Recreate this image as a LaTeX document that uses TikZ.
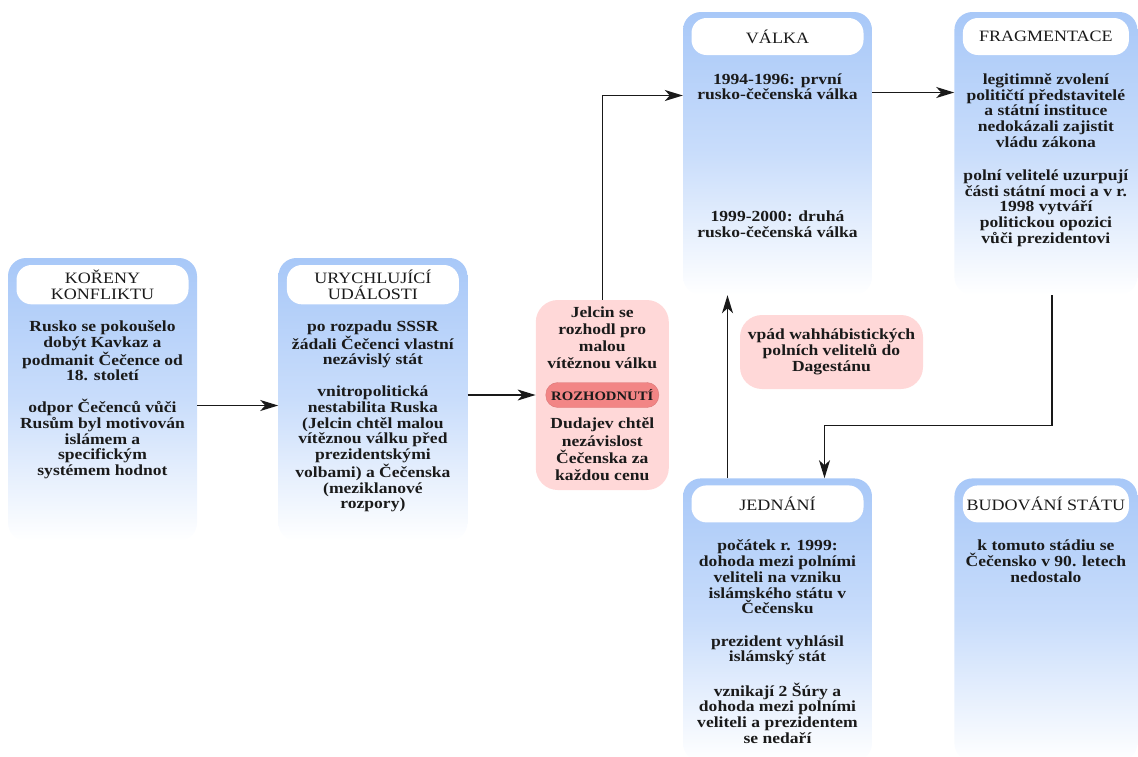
\documentclass[tikz,border=0pt]{standalone}
\usepackage{fontspec}
\setmainfont{Liberation Serif}[FakeStretch=1.14]
\usetikzlibrary{positioning,arrows.meta}
\tikzset{>={Stealth[length=18pt,width=11pt,inset=5pt]}}
\definecolor{phaseblue}{HTML}{A8C8F8}
\definecolor{phasemid}{HTML}{C9DDFB}
\definecolor{decpink}{HTML}{FFD8D8}
\definecolor{decred}{HTML}{F28585}
\definecolor{ink}{HTML}{1A1A1A}

\begin{document}
\begin{tikzpicture}[x=1pt, y=1pt,
    phase/.style={rounded corners=18pt, top color=phaseblue, bottom color=white, middle color=phasemid,
                  minimum width=189pt, minimum height=283pt, inner sep=0pt},
    head/.style={fill=white, rounded corners=15pt, minimum width=172pt, minimum height=37pt,
                 inner xsep=2pt, inner ysep=5pt, align=center, text=ink,
                 font=\fontsize{15.8}{15.6}\selectfont},
    body/.style={align=center, inner sep=0pt, text=ink, font=\bfseries\fontsize{15.4}{15.8}\selectfont},
    dec/.style={fill=decpink, rounded corners=22pt, inner sep=0pt},
    dectext/.style={body, font=\bfseries\fontsize{15.4}{17.3}\selectfont},
    pill/.style={fill=decred, draw=decred!90!black, rounded corners=12pt, minimum width=113pt,
                 minimum height=25pt, inner sep=0pt, text=ink, font=\bfseries\fontsize{12.9}{13}\selectfont},
    conn/.style={->, draw=black!90, line width=1.2pt}]
    \useasboundingbox (0,0) rectangle (1138,-756);

    % koreny konfliktu
    \node[phase] (koreny) at (102.5,-399.5) {};
    \node[head, below=7pt of koreny.north] (koreny-h) {KOŘENY\\KONFLIKTU};
    \node[body, below=16pt of koreny-h] (koreny-b) {Rusko se pokoušelo\\dobýt Kavkaz a\\podmanit Čečence od\\18. století\\[15.8pt]odpor Čečenců vůči\\Rusům byl motivován\\islámem a\\specifickým\\systémem hodnot};

    % urychlujici udalosti
    \node[phase, right=81pt of koreny] (urychl) {};
    \node[head, below=7pt of urychl.north] (urychl-h) {URYCHLUJÍCÍ\\UDÁLOSTI};
    \node[body, below=16pt of urychl-h] (urychl-b) {po rozpadu SSSR\\žádali Čečenci vlastní\\nezávislý stát\\[15.8pt]vnitropolitická\\nestabilita Ruska\\(Jelcin chtěl malou\\vítěznou válku před\\prezidentskými\\volbami) a Čečenska\\(meziklanové\\rozpory)};

    % rozhodnuti
    \node[dec, minimum width=133pt, minimum height=190pt, right=68pt of urychl, yshift=4.5pt] (rozhod) {};
    \node[pill] (rozhod-p) at (rozhod) {ROZHODNUTÍ};
    \node[dectext, above=13pt of rozhod-p] (rozhod-a) {Jelcin se\\rozhodl pro\\malou\\vítěznou válku};
    \node[dectext, below=10pt of rozhod-p] (rozhod-b) {Dudajev chtěl\\nezávislost\\Čečenska za\\každou cenu};

    % valka
    \node[phase] (valka) at (777.5,-153.5) {};
    \node[head, below=6pt of valka.north] (valka-h) {VÁLKA};
    \node[body, below=18pt of valka-h] (valka-b) {1994-1996: první\\rusko-čečenská válka\\[106pt]1999-2000: druhá\\rusko-čečenská válka};

    % fragmentace
    \node[phase, minimum width=183pt, right=82pt of valka] (frag) {};
    \node[head, minimum width=166pt, below=6pt of frag.north] (frag-h) {FRAGMENTACE};
    \node[body, below=18pt of frag-h] (frag-b) {legitimně zvolení\\političtí představitelé\\a státní instituce\\nedokázali zajistit\\vládu zákona\\[17pt]polní velitelé uzurpují\\části státní moci a v r.\\1998 vytváří\\politickou opozici\\vůči prezidentovi};

    % vpad do Dagestanu
    \node[dec, minimum width=183pt, minimum height=74pt, align=center, text=ink,
          font=\bfseries\fontsize{15.4}{15.8}\selectfont] (vpad) at (831.5,-352) {vpád wahhábistických\\polních velitelů do\\Dagestánu};

    % jednani
    \node[phase, below=183pt of valka] (jednani) {};
    \node[head, below=7pt of jednani.north] (jednani-h) {JEDNÁNÍ};
    \node[body, below=17pt of jednani-h] (jednani-b) {počátek r. 1999:\\dohoda mezi polními\\veliteli na vzniku\\islámského státu v\\Čečensku\\[16.5pt]prezident vyhlásil\\islámský stát\\[16.5pt]vznikají 2 Šúry a\\dohoda mezi polními\\veliteli a prezidentem\\se nedaří};

    % budovani statu
    \node[phase, minimum width=183pt, right=82pt of jednani] (budov) {};
    \node[head, minimum width=166pt, below=7pt of budov.north] (budov-h) {BUDOVÁNÍ STÁTU};
    \node[body, below=17pt of budov-h] (budov-b) {k tomuto stádiu se\\Čečensko v 90. letech\\nedostalo};

    % connectors
    \draw[conn] ([yshift=-6pt]koreny.east) -- ([yshift=-6pt]urychl.west);
    \draw[conn] (urychl.east |- rozhod.west) -- (rozhod.west);
    \draw[conn] (rozhod.north) |- ([yshift=58pt]valka.west);
    \draw[conn] ([yshift=61pt]valka.east) -- ([yshift=61pt]frag.west);
    \draw[conn] ([xshift=6pt]frag.south) -- ++(0,-130) -| ([xshift=47pt]jednani.north);
    \draw[conn] ([xshift=-50pt]jednani.north) -- ([xshift=-50pt]valka.south);
\end{tikzpicture}
\end{document}
